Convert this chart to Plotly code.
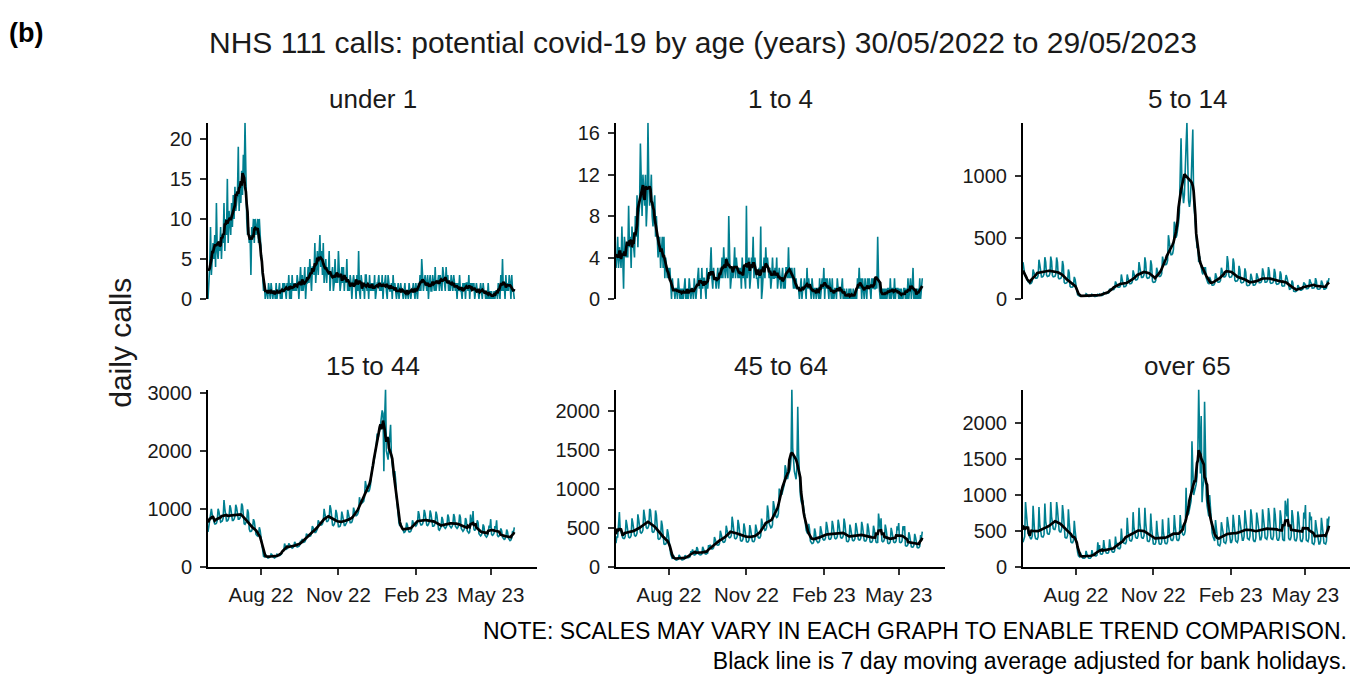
import pandas as pd
import plotly.graph_objects as go

# ---------------- data (daily NHS 111 calls, 30/05/2022 .. 29/05/2023) ----------------
START_DATE = "2022-05-30"
X_END_DATE = "2023-06-25"

panel_titles = ["under 1", "1 to 4", "5 to 14", "15 to 44", "45 to 64", "over 65"]

calls_under_1 = [
    0, 2, 4, 9, 3, 5, 7,
    5, 8, 4, 12, 6, 5, 7,
    6, 9, 5, 8, 7, 12, 6,
    10, 8, 15, 7, 11, 9, 8,
    12, 9, 13, 10, 14, 11, 12,
    13, 19, 11, 14, 12, 16, 13,
    18, 15, 22, 12, 10, 8, 9,
    7, 8, 3, 9, 8, 10, 7,
    10, 8, 9, 10, 7, 10, 8,
    6, 4, 2, 1, 2, 0, 1,
    1, 0, 2, 1, 0, 2, 1,
    0, 1, 1, 0, 2, 0, 1,
    1, 2, 0, 1, 0, 2, 1,
    2, 1, 0, 2, 1, 3, 0,
    2, 0, 3, 1, 2, 1, 2,
    1, 3, 2, 0, 2, 4, 1,
    3, 1, 2, 4, 0, 2, 2,
    4, 2, 5, 3, 1, 4, 4,
    3, 7, 2, 5, 6, 3, 5,
    8, 4, 6, 3, 7, 2, 4,
    5, 2, 4, 3, 6, 1, 3,
    3, 4, 1, 2, 5, 2, 3,
    2, 6, 3, 1, 2, 4, 2,
    4, 1, 3, 2, 5, 1, 2,
    1, 3, 2, 0, 2, 3, 2,
    2, 0, 3, 1, 6, 1, 0,
    3, 2, 1, 2, 0, 3, 3,
    1, 2, 0, 3, 1, 2, 1,
    2, 1, 3, 0, 1, 2, 2,
    3, 1, 2, 1, 3, 0, 2,
    2, 3, 1, 0, 3, 2, 1,
    1, 2, 0, 3, 1, 2, 1,
    0, 1, 2, 0, 1, 2, 1,
    1, 0, 1, 2, 0, 1, 1,
    0, 2, 1, 0, 1, 1, 2,
    1, 0, 2, 1, 0, 2, 1,
    3, 1, 5, 2, 1, 2, 3,
    2, 1, 3, 0, 2, 3, 1,
    1, 3, 2, 1, 4, 1, 2,
    2, 3, 1, 3, 2, 1, 4,
    3, 2, 1, 4, 2, 3, 1,
    2, 1, 3, 2, 1, 3, 2,
    1, 2, 0, 2, 1, 3, 1,
    1, 0, 2, 1, 2, 0, 2,
    2, 1, 3, 0, 2, 1, 2,
    1, 2, 0, 1, 2, 1, 1,
    0, 1, 2, 1, 0, 2, 1,
    1, 0, 1, 0, 2, 0, 1,
    0, 1, 0, 0, 1, 0, 1,
    1, 0, 2, 1, 0, 3, 1,
    5, 1, 2, 0, 3, 1, 2,
    1, 3, 2, 0, 3, 1, 1,
    0,
]

calls_1_to_4 = [
    3, 4, 6, 3, 5, 4, 3,
    7, 4, 1, 6, 5, 4, 5,
    4, 9, 5, 6, 3, 7, 5,
    5, 4, 8, 6, 10, 5, 8,
    9, 15, 11, 8, 12, 10, 9,
    12, 7, 9, 17, 11, 9, 10,
    12, 8, 7, 9, 10, 6, 8,
    6, 4, 5, 6, 3, 5, 6,
    3, 6, 2, 4, 3, 2, 3,
    2, 3, 1, 0, 2, 1, 1,
    0, 1, 1, 0, 2, 1, 0,
    1, 0, 1, 0, 1, 2, 0,
    0, 1, 0, 2, 1, 0, 1,
    1, 0, 2, 1, 0, 1, 2,
    3, 1, 2, 0, 3, 1, 2,
    2, 1, 0, 3, 1, 2, 2,
    3, 5, 2, 1, 3, 2, 2,
    1, 2, 3, 1, 2, 3, 2,
    4, 2, 5, 3, 2, 4, 3,
    2, 8, 3, 1, 2, 3, 2,
    3, 5, 2, 4, 3, 2, 3,
    2, 3, 1, 4, 2, 3, 2,
    1, 9, 2, 3, 4, 1, 2,
    4, 3, 6, 2, 4, 3, 2,
    2, 1, 3, 2, 7, 0, 1,
    3, 4, 2, 5, 3, 4, 3,
    2, 3, 1, 2, 4, 2, 2,
    3, 2, 4, 1, 2, 3, 2,
    1, 2, 3, 1, 2, 1, 3,
    3, 2, 5, 2, 3, 2, 3,
    2, 1, 3, 1, 2, 1, 1,
    1, 0, 1, 2, 0, 1, 1,
    2, 1, 0, 3, 1, 2, 1,
    1, 0, 2, 1, 0, 1, 1,
    0, 1, 1, 0, 2, 0, 1,
    2, 1, 3, 0, 2, 1, 2,
    1, 0, 2, 1, 0, 2, 0,
    0, 1, 1, 0, 2, 1, 1,
    1, 0, 1, 2, 0, 1, 0,
    0, 1, 0, 0, 1, 0, 1,
    0, 0, 1, 0, 0, 1, 0,
    2, 1, 3, 1, 2, 0, 2,
    1, 0, 2, 1, 0, 2, 1,
    2, 1, 0, 2, 1, 2, 1,
    1, 2, 1, 6, 2, 1, 0,
    1, 0, 1, 0, 1, 0, 1,
    0, 1, 1, 0, 2, 0, 1,
    1, 0, 2, 0, 1, 1, 1,
    0, 1, 0, 1, 0, 0, 1,
    1, 0, 1, 0, 2, 0, 1,
    2, 0, 1, 3, 0, 1, 0,
    1, 0, 1, 0, 2, 0, 1,
    2,
]

calls_5_to_14 = [
    300, 240, 200, 185, 170, 160, 140,
    140, 125, 125, 130, 145, 240, 215,
    180, 170, 170, 172, 190, 320, 280,
    190, 180, 180, 185, 203, 340, 300,
    195, 184, 184, 189, 207, 345, 306,
    191, 180, 180, 185, 203, 338, 299,
    174, 164, 164, 168, 185, 310, 273,
    136, 128, 128, 131, 144, 240, 213,
    102, 96, 96, 98, 108, 180, 160,
    90, 70, 35, 25, 24, 30, 28,
    24, 22, 22, 23, 25, 42, 37,
    21, 20, 20, 21, 23, 38, 33,
    21, 20, 20, 21, 23, 38, 34,
    40, 28, 28, 29, 32, 53, 47,
    47, 44, 44, 45, 50, 83, 73,
    81, 76, 76, 78, 86, 143, 126,
    110, 96, 96, 98, 108, 200, 160,
    106, 100, 100, 103, 113, 200, 166,
    132, 124, 124, 127, 140, 233, 206,
    166, 156, 156, 160, 176, 300, 259,
    187, 176, 176, 180, 198, 340, 293,
    179, 168, 168, 172, 189, 315, 279,
    145, 136, 136, 139, 153, 255, 226,
    196, 184, 184, 189, 207, 345, 306,
    298, 280, 280, 287, 315, 520, 470,
    383, 360, 360, 369, 405, 630, 600,
    500, 520, 560, 620, 700, 1000, 1310,
    950, 850, 780, 850, 1000, 1250, 1435,
    900, 800, 750, 800, 950, 1220, 1380,
    800, 700, 600, 500, 420, 420, 300,
    350, 300, 260, 220, 200, 260, 230,
    260, 170, 140, 130, 125, 180, 160,
    119, 112, 112, 115, 126, 210, 186,
    145, 136, 136, 139, 153, 255, 226,
    191, 180, 180, 185, 203, 350, 299,
    187, 176, 176, 180, 198, 330, 293,
    153, 144, 144, 148, 162, 270, 239,
    140, 132, 132, 135, 149, 250, 219,
    115, 108, 108, 111, 122, 205, 180,
    119, 112, 112, 115, 126, 210, 186,
    140, 132, 132, 135, 149, 250, 219,
    145, 136, 136, 139, 153, 260, 226,
    136, 128, 128, 131, 144, 245, 213,
    128, 120, 120, 123, 135, 225, 200,
    110, 104, 104, 107, 150, 195, 173,
    130, 85, 80, 82, 90, 150, 133,
    64, 60, 60, 62, 68, 113, 100,
    77, 72, 72, 74, 81, 135, 120,
    120, 84, 84, 86, 95, 160, 140,
    125, 88, 88, 90, 99, 170, 146,
    85, 80, 80, 82, 90, 150, 133,
    85, 80, 80, 82, 90, 150, 133,
    170,
]

calls_15_to_44 = [
    600, 720, 760, 980, 1000, 900, 860,
    780, 740, 740, 750, 800, 1000, 950,
    820, 770, 780, 790, 840, 1150, 1000,
    840, 790, 790, 810, 860, 1060, 1010,
    850, 800, 800, 820, 870, 1070, 1020,
    860, 820, 820, 840, 890, 1090, 1050,
    800, 740, 730, 750, 790, 990, 930,
    650, 610, 610, 620, 670, 820, 780,
    600, 560, 540, 530, 560, 680, 620,
    500, 420, 260, 180, 170, 220, 200,
    160, 150, 150, 160, 170, 220, 210,
    170, 155, 150, 160, 175, 215, 205,
    200, 190, 200, 220, 240, 290, 270,
    400, 310, 300, 310, 330, 400, 380,
    350, 320, 320, 330, 350, 430, 410,
    370, 340, 340, 350, 370, 450, 430,
    480, 420, 420, 430, 460, 570, 540,
    550, 520, 520, 530, 570, 700, 670,
    630, 590, 590, 610, 650, 800, 760,
    760, 720, 720, 740, 790, 1000, 900,
    830, 780, 780, 800, 850, 1060, 1000,
    770, 720, 710, 730, 780, 980, 920,
    730, 690, 690, 700, 750, 950, 880,
    750, 710, 710, 730, 770, 980, 900,
    800, 760, 760, 770, 820, 1020, 960,
    920, 880, 890, 910, 960, 1200, 1100,
    1150, 1100, 1110, 1130, 1200, 1480, 1400,
    1350, 1300, 1300, 1330, 1400, 1650, 1700,
    1750, 1800, 1900, 2000, 2100, 2300, 2200,
    2300, 2350, 2450, 2550, 2700, 2650, 1650,
    2600, 3060, 2000, 1900, 1850, 2050, 2200,
    2450, 1900, 1750, 1600, 1500, 1650, 1500,
    1200, 1000, 850, 750, 700, 750, 700,
    650, 600, 590, 600, 630, 760, 720,
    630, 600, 600, 610, 650, 800, 760,
    740, 700, 700, 720, 760, 960, 900,
    760, 720, 720, 740, 790, 980, 920,
    770, 720, 710, 730, 780, 970, 910,
    740, 700, 700, 710, 760, 950, 890,
    680, 640, 630, 650, 690, 860, 810,
    700, 670, 660, 680, 720, 900, 850,
    710, 680, 670, 690, 730, 910, 860,
    700, 670, 660, 680, 720, 900, 850,
    660, 620, 610, 630, 670, 840, 800,
    620, 590, 580, 600, 900, 780, 720,
    960, 650, 620, 640, 680, 800, 760,
    570, 540, 530, 550, 590, 730, 690,
    550, 520, 510, 530, 570, 710, 670,
    820, 560, 540, 550, 580, 700, 660,
    800, 540, 520, 530, 550, 660, 620,
    510, 480, 470, 480, 520, 640, 600,
    490, 460, 450, 460, 500, 620, 580,
    680,
]

calls_45_to_64 = [
    300, 380, 380, 600, 700, 480, 430,
    400, 370, 360, 360, 390, 600, 540,
    410, 380, 370, 375, 400, 620, 560,
    440, 400, 390, 400, 430, 670, 600,
    480, 440, 430, 440, 470, 730, 650,
    540, 500, 490, 495, 530, 740, 720,
    490, 450, 440, 445, 480, 720, 660,
    390, 360, 350, 355, 380, 590, 530,
    320, 290, 285, 290, 310, 480, 430,
    300, 250, 160, 110, 100, 150, 130,
    95, 88, 85, 88, 95, 150, 130,
    95, 88, 86, 88, 95, 145, 130,
    125, 115, 115, 118, 127, 200, 180,
    220, 160, 150, 152, 162, 250, 230,
    165, 152, 150, 152, 162, 255, 225,
    180, 165, 162, 164, 175, 275, 245,
    280, 230, 225, 228, 243, 380, 340,
    305, 280, 275, 278, 297, 460, 415,
    345, 320, 312, 315, 338, 525, 470,
    410, 380, 370, 374, 400, 640, 560,
    395, 365, 357, 361, 387, 600, 540,
    365, 336, 328, 332, 356, 553, 498,
    350, 323, 315, 319, 342, 532, 479,
    354, 327, 320, 323, 347, 540, 485,
    405, 374, 365, 370, 396, 616, 554,
    515, 476, 465, 470, 504, 784, 706,
    552, 510, 498, 504, 540, 840, 756,
    700, 646, 630, 638, 684, 1000, 960,
    980, 920, 960, 1000, 1050, 1300, 1250,
    1130, 1130, 1180, 1220, 1250, 1380, 2270,
    1520, 1320, 1220, 1170, 1120, 1270, 2050,
    1450, 1080, 930, 840, 800, 850, 750,
    650, 520, 470, 440, 420, 550, 480,
    330, 300, 295, 298, 318, 490, 440,
    340, 315, 307, 311, 333, 518, 466,
    377, 349, 340, 344, 369, 574, 517,
    386, 357, 349, 353, 378, 588, 529,
    396, 366, 357, 361, 387, 602, 542,
    405, 374, 365, 370, 396, 616, 554,
    354, 327, 320, 323, 347, 540, 485,
    368, 340, 332, 336, 360, 560, 504,
    377, 349, 340, 344, 369, 574, 517,
    363, 336, 328, 332, 356, 553, 498,
    345, 319, 311, 315, 338, 525, 473,
    340, 316, 308, 312, 680, 520, 470,
    620, 330, 320, 325, 350, 540, 480,
    327, 302, 295, 298, 320, 497, 447,
    340, 315, 307, 311, 333, 518, 466,
    560, 315, 307, 311, 333, 518, 466,
    520, 270, 262, 266, 285, 440, 400,
    276, 255, 249, 252, 270, 420, 378,
    267, 246, 240, 244, 261, 406, 365,
    450,
]

calls_over_65 = [
    340, 400, 420, 900, 700, 500, 460,
    450, 400, 390, 390, 425, 850, 600,
    441, 392, 382, 382, 417, 833, 588,
    477, 424, 413, 413, 450, 880, 636,
    522, 464, 452, 452, 493, 900, 696,
    590, 530, 520, 520, 570, 900, 800,
    560, 500, 485, 485, 530, 860, 740,
    460, 410, 400, 400, 435, 800, 610,
    390, 345, 335, 335, 365, 640, 500,
    380, 330, 200, 150, 140, 200, 170,
    135, 120, 117, 117, 128, 220, 180,
    135, 120, 117, 117, 128, 230, 180,
    170, 150, 148, 148, 160, 340, 230,
    300, 180, 175, 175, 190, 370, 270,
    216, 192, 187, 187, 204, 380, 290,
    234, 208, 203, 203, 221, 420, 310,
    330, 256, 250, 250, 272, 530, 380,
    369, 328, 320, 320, 349, 680, 492,
    414, 368, 359, 359, 391, 760, 552,
    459, 408, 398, 398, 434, 820, 612,
    459, 408, 398, 398, 434, 820, 612,
    405, 360, 351, 351, 383, 740, 540,
    360, 320, 312, 312, 340, 640, 480,
    360, 320, 312, 312, 340, 660, 480,
    369, 328, 320, 320, 349, 680, 492,
    423, 376, 367, 367, 400, 720, 564,
    423, 376, 367, 367, 400, 720, 564,
    500, 450, 440, 450, 500, 1100, 700,
    720, 740, 800, 860, 920, 1750, 1100,
    1000, 1050, 1100, 1150, 1250, 1600, 2470,
    1500, 1300, 2100, 900, 1100, 1200, 2300,
    1380, 1000, 850, 750, 700, 1000, 800,
    620, 470, 420, 380, 360, 650, 480,
    430, 305, 290, 290, 330, 620, 545,
    480, 342, 325, 325, 368, 693, 614,
    504, 357, 339, 339, 385, 724, 641,
    500, 360, 340, 338, 384, 720, 645,
    547, 388, 368, 368, 417, 785, 696,
    557, 395, 375, 375, 425, 800, 709,
    525, 372, 353, 353, 401, 755, 669,
    557, 395, 375, 375, 425, 800, 709,
    568, 403, 382, 382, 434, 816, 723,
    565, 400, 385, 380, 430, 820, 725,
    547, 388, 368, 368, 417, 785, 696,
    530, 380, 365, 365, 920, 800, 700,
    950, 400, 375, 375, 420, 790, 700,
    536, 380, 361, 361, 410, 770, 683,
    525, 372, 353, 353, 401, 755, 669,
    860, 370, 350, 350, 400, 760, 650,
    700, 330, 310, 310, 350, 650, 560,
    470, 335, 318, 318, 361, 680, 600,
    465, 330, 315, 315, 355, 670, 560,
    700,
]

yticks_under_1 = [0, 5, 10, 15, 20]
yticks_1_to_4 = [0, 4, 8, 12, 16]
yticks_5_to_14 = [0, 500, 1000]
yticks_15_to_44 = [0, 1000, 2000, 3000]
yticks_45_to_64 = [0, 500, 1000, 1500, 2000]
yticks_over_65 = [0, 500, 1000, 1500, 2000]

xtick_dates = ["2022-08-01", "2022-11-01", "2023-02-01", "2023-05-01"]
xtick_labels = ["Aug 22", "Nov 22", "Feb 23", "May 23"]

note_lines = [
    "NOTE: SCALES MAY VARY IN EACH GRAPH TO ENABLE TREND COMPARISON.",
    "Black line is 7 day moving average adjusted for bank holidays.",
]

series = [calls_under_1, calls_1_to_4, calls_5_to_14,
          calls_15_to_44, calls_45_to_64, calls_over_65]
yticks = [yticks_under_1, yticks_1_to_4, yticks_5_to_14,
          yticks_15_to_44, yticks_45_to_64, yticks_over_65]

# ---------------- styling / layout ----------------
W, H = 1350, 675
FONT = "Liberation Sans, Arial, Helvetica, sans-serif"
TEAL = "#007F90"
TXT = "#1a1a1a"

col_px = [(208, 537), (616, 945), (1023, 1350)]
col_xend = [X_END_DATE, X_END_DATE, "2023-06-23"]
row_px = [(119, 300), (393, 575)]


def px_x(x):
    return x / W


def px_y(y):
    return 1 - y / H


fig = go.Figure()
layout = dict(
    width=W, height=H,
    margin=dict(l=0, r=0, t=0, b=0),
    paper_bgcolor="white", plot_bgcolor="white",
    showlegend=False, hovermode=False,
    font=dict(family=FONT, color=TXT),
)
annotations = []

for i, (title, vals) in enumerate(zip(panel_titles, series)):
    r, c = divmod(i, 3)
    ax_id = "" if i == 0 else str(i + 1)
    dates = pd.date_range(START_DATE, periods=len(vals), freq="D")
    ma = pd.Series(vals, dtype=float).rolling(7, center=True, min_periods=1).mean()

    fig.add_trace(go.Scatter(x=dates, y=vals, mode="lines",
                             line=dict(color=TEAL, width=1.6),
                             xaxis="x" + ax_id, yaxis="y" + ax_id))
    fig.add_trace(go.Scatter(x=dates, y=ma, mode="lines",
                             line=dict(color="black", width=2.7),
                             xaxis="x" + ax_id, yaxis="y" + ax_id))

    x0, x1 = col_px[c]
    y0, y1 = row_px[r]
    bottom = (r == 1)
    layout["xaxis" + ax_id] = dict(
        domain=[px_x(x0), px_x(x1)],
        anchor="y" + ax_id,
        type="date",
        range=[START_DATE, col_xend[c]],
        showgrid=False, zeroline=False,
        showline=bottom, linecolor="black", linewidth=2,
        ticks="outside" if bottom else "",
        ticklen=6, tickwidth=1.5, tickcolor="#333333",
        tickvals=xtick_dates, ticktext=xtick_labels,
        showticklabels=bottom,
        tickfont=dict(size=20.5, color=TXT, family=FONT),
        ticklabelstandoff=3,
    )
    layout["yaxis" + ax_id] = dict(
        domain=[px_y(y1), px_y(y0)],
        anchor="x" + ax_id,
        range=[0, max(vals)],
        showgrid=False, zeroline=False,
        showline=True, linecolor="black", linewidth=2,
        ticks="outside", ticklen=6, tickwidth=1.5, tickcolor="#333333",
        tickvals=yticks[i],
        tickfont=dict(size=20, color=TXT, family=FONT),
        ticklabelstandoff=4,
    )
    annotations.append(dict(
        text=title, xref="paper", yref="paper",
        x=px_x((x0 + x1 + (2 if c == 2 else 0)) / 2), y=px_y(95 if r == 0 else 369),
        xanchor="center", yanchor="middle", showarrow=False,
        font=dict(size=26, color=TXT, family=FONT),
    ))

annotations += [
    dict(text="<b>(b)</b>", xref="paper", yref="paper", x=px_x(7), y=px_y(27),
         xanchor="left", yanchor="middle", showarrow=False,
         font=dict(size=27, color="black", family=FONT)),
    dict(text="NHS 111 calls: potential covid-19 by age (years) 30/05/2022 to 29/05/2023",
         xref="paper", yref="paper", x=px_x(703), y=px_y(36),
         xanchor="center", yanchor="middle", showarrow=False,
         font=dict(size=30, color=TXT, family=FONT)),
    dict(text="daily calls", xref="paper", yref="paper", x=px_x(121), y=px_y(345),
         xanchor="center", yanchor="middle", showarrow=False, textangle=-90,
         font=dict(size=30, color=TXT, family=FONT)),
    dict(text="<br>".join(note_lines),
         xref="paper", yref="paper", x=px_x(1349), y=px_y(656),
         xanchor="right", yanchor="middle", align="right", showarrow=False,
         font=dict(size=23, color="black", family=FONT)),
]
layout["annotations"] = annotations
fig.update_layout(**layout)

fig.write_html("out.html", config={"displayModeBar": False},
               post_script="document.body.style.margin='0';")
